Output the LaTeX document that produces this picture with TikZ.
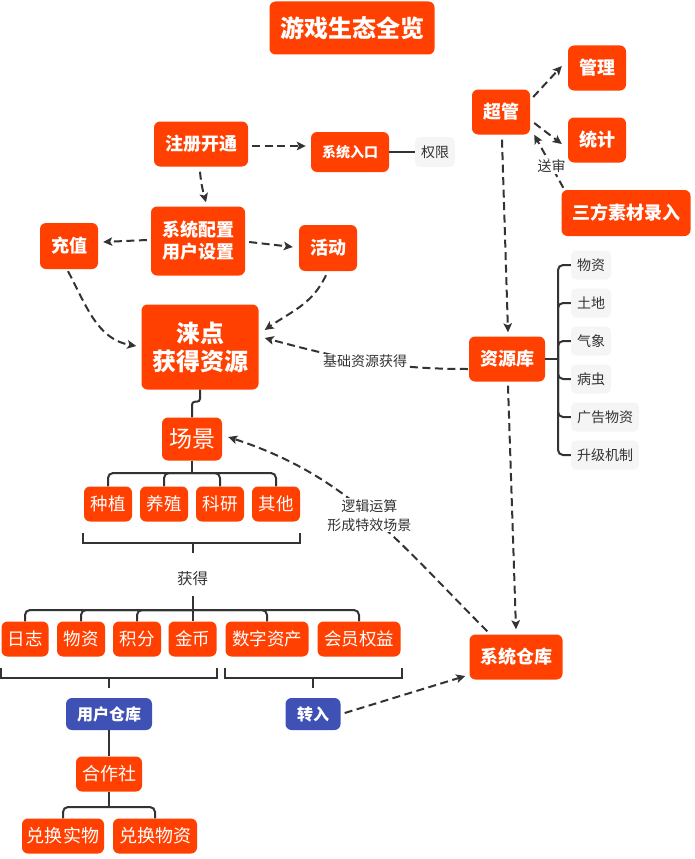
\documentclass[tikz,border=0pt]{standalone}
\usepackage{fontspec}
\setmainfont{Noto Sans CJK SC}
\usetikzlibrary{arrows.meta,calc}
\definecolor{org}{HTML}{FF4000}
\definecolor{blu}{HTML}{3F51B5}
\definecolor{gry}{HTML}{F5F5F5}
\definecolor{ln}{HTML}{333333}
\newcommand{\fsz}[2]{\fontsize{#1}{#2}\selectfont}
\begin{document}
\begin{tikzpicture}[x=1pt,y=-1pt,
 box/.style={fill=org,text=white,rounded corners=6pt,inner sep=0pt,align=center},
 bbox/.style={box,font=\bfseries\fsz{18}{22}},
 nbox/.style={box,font=\fsz{18}{22}},
 ubox/.style={box,fill=blu,font=\bfseries\fsz{16}{20}},
 tag/.style={fill=gry,text=ln,rounded corners=5pt,inner sep=0pt,font=\fsz{14}{17},minimum height=29pt},
 lbl/.style={fill=white,text=ln,inner sep=1pt,font=\fsz{14}{19},align=center},
 dar/.style={draw=ln,line width=2pt,dash pattern=on 8pt off 4.5pt,-{Stealth[length=9pt,width=8.5pt,inset=2pt]}},
 tree/.style={draw=ln,line width=2pt,rounded corners=5pt},
 brk/.style={draw=ln,line width=2pt},
]
\useasboundingbox (0,0) rectangle (695,859);
% top area
\node[bbox,font=\bfseries\fsz{24}{28},minimum width=165pt,minimum height=53pt] (title) at (352,28) {游戏生态全览};
\node[bbox,minimum width=94pt,minimum height=45pt] (zc) at (201,144) {注册开通};
\node[bbox,font=\bfseries\fsz{14}{17},minimum width=78pt,minimum height=40pt] (rk) at (350,152) {系统入口};
\node[tag,minimum width=40pt,minimum height=30pt] (qx) at (435,152) {权限};
\node[bbox,minimum width=58pt,minimum height=45pt] (cg) at (501,112) {超管};
\node[bbox,minimum width=58pt,minimum height=45pt] (gl) at (597,68) {管理};
\node[bbox,minimum width=58pt,minimum height=45pt] (tj) at (597,140) {统计};
\node[bbox,minimum width=129pt,minimum height=46pt] (sf) at (626,213) {三方素材录入};
\node[bbox,minimum width=94pt,minimum height=69pt] (pz) at (198,241) {系统配置\\用户设置};
\node[bbox,minimum width=58pt,minimum height=46pt] (cz) at (69,246) {充值};
\node[bbox,minimum width=58pt,minimum height=46pt] (hd) at (328,248) {活动};
\node[bbox,font=\bfseries\fsz{24}{28},minimum width=117pt,minimum height=85pt] (lq) at (200,347) {涞点\\获得资源};
\node[bbox,minimum width=76pt,minimum height=45pt] (zy) at (507,359) {资源库};
% resource list
\node[tag,minimum width=40pt] (t1) at (591,265) {物资};
\node[tag,minimum width=40pt] (t2) at (591,303) {土地};
\node[tag,minimum width=40pt] (t3) at (591,341) {气象};
\node[tag,minimum width=40pt] (t4) at (591,379) {病虫};
\node[tag,minimum width=68pt] (t5) at (605,417) {广告物资};
\node[tag,minimum width=68pt] (t6) at (605,455) {升级机制};
% scene
\node[nbox,font=\fsz{23}{27},minimum width=60pt,minimum height=43pt] (cj) at (192,439) {场景};
\node[nbox,font=\fsz{17.5}{21},minimum width=48pt,minimum height=35pt] (zz) at (108,504) {种植};
\node[nbox,font=\fsz{17.5}{21},minimum width=48pt,minimum height=35pt] (yz) at (164,504) {养殖};
\node[nbox,font=\fsz{17.5}{21},minimum width=48pt,minimum height=35pt] (ky) at (220,504) {科研};
\node[nbox,font=\fsz{17.5}{21},minimum width=48pt,minimum height=35pt] (qt) at (276,504) {其他};
\node[text=ln,font=\fsz{15.5}{18},minimum height=34pt,inner sep=0pt] (hq) at (192.5,579) {获得};
% bottom row
\node[nbox,font=\fsz{17.5}{21},minimum width=47pt,minimum height=35pt] (rz) at (25,639) {日志};
\node[nbox,font=\fsz{17.5}{21},minimum width=48pt,minimum height=35pt] (wz) at (81,639) {物资};
\node[nbox,font=\fsz{17.5}{21},minimum width=48pt,minimum height=35pt] (jf) at (137,639) {积分};
\node[nbox,font=\fsz{17.5}{21},minimum width=48pt,minimum height=35pt] (jb) at (192.5,639) {金币};
\node[nbox,font=\fsz{17.5}{21},minimum width=83pt,minimum height=35pt] (sz) at (267,639) {数字资产};
\node[nbox,font=\fsz{17.5}{21},minimum width=83pt,minimum height=35pt] (hy) at (359,639) {会员权益};
\node[ubox,minimum width=86pt,minimum height=32pt] (yh) at (109,714) {用户仓库};
\node[ubox,minimum width=55pt,minimum height=32pt] (zr) at (313,714) {转入};
\node[bbox,minimum width=93pt,minimum height=45pt] (xt) at (516,657) {系统仓库};
\node[nbox,minimum width=66pt,minimum height=35pt] (hzs) at (109,774) {合作社};
\node[nbox,minimum width=82pt,minimum height=35pt] (dh1) at (63,836) {兑换实物};
\node[nbox,minimum width=84pt,minimum height=35pt] (dh2) at (155,836) {兑换物资};
% coordinates
\coordinate (zj) at (558,359);
\coordinate (cjj) at (192,473);
\coordinate (hj) at (192.5,610);
\coordinate (hzj) at (109,807);
% solid connectors
\draw[brk] (rk.east) -- (qx.west);
\draw[brk] (zy.east) -- (zj);
\foreach \t in {t1,t2,t3,t4,t5,t6} \draw[tree] (zj) |- (\t.west);
\draw[tree,rounded corners=3pt] (lq.south) -- ++(0,12) -| (cj.north);
\draw[tree] (cj.south) -- (cjj);
\foreach \c in {zz,yz,ky,qt} \draw[tree] (cjj) -| (\c.north);
\draw[brk] ($(zz.south west)+(-1,11)$) -- ++(0,10) -| ($(qt.south east)+(0,11)$);
\draw[brk] ($(hq.north)+(0,-19)$) -- ++(0,10);
\draw[tree] (hq.south) -- (hj);
\foreach \c in {rz,wz,jf,sz,hy} \draw[tree] (hj) -| (\c.north);
\draw[tree] (hj) -- (jb.north);
\draw[brk] ($(rz.south west)+(0,11)$) -- ++(0,10) -| ($(jb.south east)+(0,11)$);
\draw[brk] ($(sz.south west)+(0,11)$) -- ++(0,10) -| ($(hy.south east)+(1,11)$);
\draw[brk] ($(yh.north)+(0,-20.5)$) -- ++(0,10.5);
\draw[brk] ($(zr.north)+(0,-20.5)$) -- ++(0,10.5);
\draw[brk] (yh.south) -- (hzs.north);
\draw[tree] (hzs.south) -- (hzj);
\draw[tree] (hzj) -| (dh1.north);
\draw[tree] (hzj) -| (dh2.north);
% dashed arrows
\draw[dar] ($(zc.east)+(4,2)$) -- ($(rk.west)+(-5,-6)$);
\draw[dar] ($(zc.south)+(-1,5)$) to[out=-85,in=105] ($(pz.north)+(8,-4)$);
\draw[dar] ($(pz.west)+(-4,-1)$) -- ($(cz.east)+(5,-4)$);
\draw[dar] ($(pz.east)+(4,1)$) -- ($(hd.west)+(-6,-1)$);
\draw[dar] ($(cz.south)+(-1,2)$) to[out=-62,in=170] ($(lq.west)+(-5,-1)$);
\draw[dar] ($(hd.south)+(-2,4)$) to[out=-115,in=35] ($(lq.east)+(6,-17)$);
\draw[dar] ($(zy.west)+(-1,10)$) to[out=180,in=-15] node[lbl,pos=0.5] {基础资源获得} ($(lq.east)+(6,-9)$);
\draw[dar] ($(cg.east)+(3,-15)$) -- ($(gl.west)+(-6,-2)$);
\draw[dar] ($(cg.east)+(4,11)$) -- ($(tj.west)+(-6,4)$);
\draw[dar] ($(sf.north west)+(2,-2)$) -- node[lbl,pos=0.4] {送审} ($(cg.south east)+(4,0)$);
\draw[dar] ($(cg.south)+(1,5)$) -- ($(zy.north)+(1,-4)$);
\draw[dar] ($(zy.south)+(1,4)$) -- ($(xt.north)+(0,-5)$);
\draw[dar] ($(xt.north west)+(18,-3)$) to[out=135,in=-18] node[lbl,pos=0.5] {逻辑运算\\形成特效场景} ($(cj.east)+(6,-2)$);
\draw[dar] ($(zr.east)+(4,-1)$) -- ($(xt.west)+(-4,19)$);
\end{tikzpicture}
\end{document}
